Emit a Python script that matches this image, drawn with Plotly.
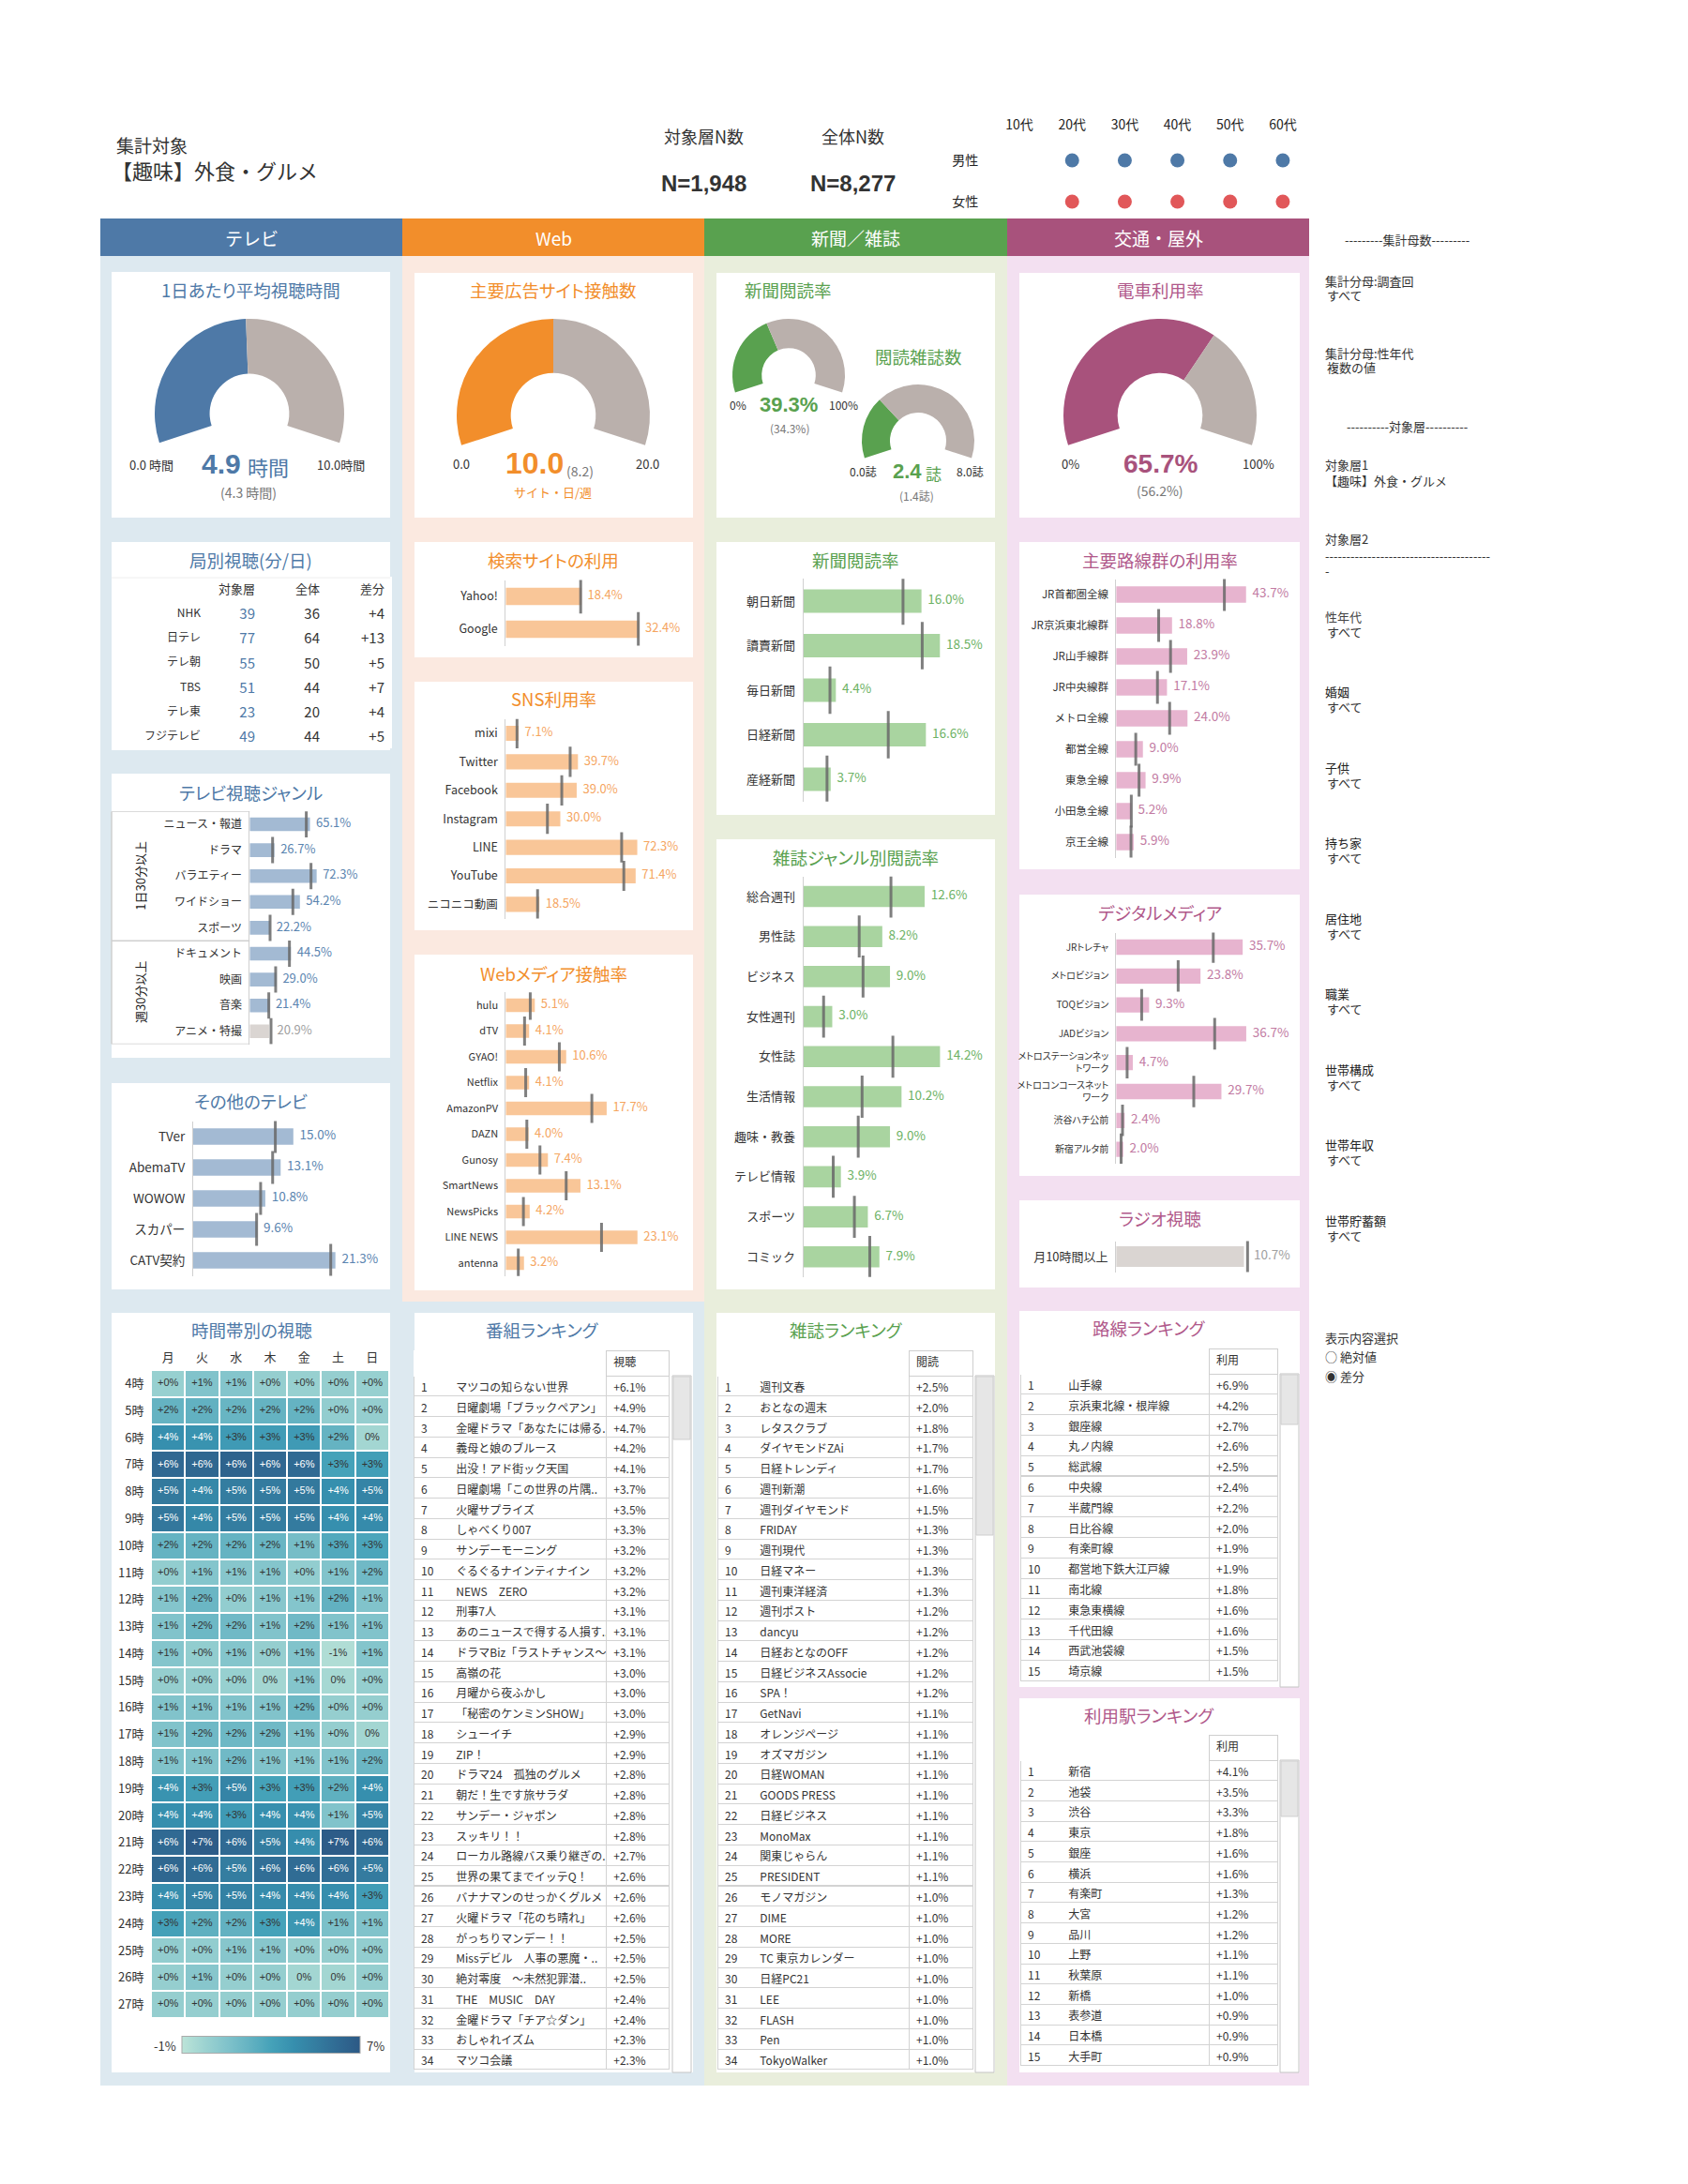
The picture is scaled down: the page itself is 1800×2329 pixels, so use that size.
import plotly.graph_objects as go

# page body has an 8px margin: size the figure to the content box and place by page pixels
OFF = 8
W, H = 1800 - 2 * OFF, 2329 - 2 * OFF
def X(px): return (px - OFF) / W
def Y(py): return 1 - (py - OFF) / H

JP = "Noto Sans CJK JP, Noto Sans, sans-serif"
NUM = "Liberation Sans Narrow, Liberation Sans, Arial, sans-serif"

# ======================= DATA =======================
target_name = "【趣味】外食・グルメ"
n_target_label = "N=1,948"
n_total_label = "N=8,277"
age_groups = ["10代", "20代", "30代", "40代", "50代", "60代"]
genders = ["男性", "女性"]
male_selected = ["20代", "30代", "40代", "50代", "60代"]
female_selected = ["20代", "30代", "40代", "50代", "60代"]

tv_time, tv_time_all, tv_time_max = 4.9, 4.3, 10.0
web_sites, web_sites_all, web_sites_max = 10.0, 8.2, 20.0
np_rate, np_rate_all, np_rate_max = 39.3, 34.3, 100.0
mag_num, mag_num_all, mag_num_max = 2.4, 1.4, 8.0
train_rate, train_rate_all, train_rate_max = 65.7, 56.2, 100.0

station_names = ["NHK", "日テレ", "テレ朝", "TBS", "テレ東", "フジテレビ"]
station_target = [39, 77, 55, 51, 23, 49]
station_total = [36, 64, 50, 44, 20, 44]
station_diff = [4, 13, 5, 7, 4, 5]

genre_labels = ["ニュース・報道", "ドラマ", "バラエティー", "ワイドショー", "スポーツ",
                "ドキュメント", "映画", "音楽", "アニメ・特撮"]
genre_vals = [65.1, 26.7, 72.3, 54.2, 22.2, 44.5, 29.0, 21.4, 20.9]
genre_refs = [61.1, 24.7, 66.2, 46.6, 22.0, 42.9, 28.0, 20.6, 23.0]
genre_groups = ["1日30分以上", "週30分以上"]
genre_group_sizes = [5, 4]

othertv_labels = ["TVer", "AbemaTV", "WOWOW", "スカパー", "CATV契約"]
othertv_vals = [15.0, 13.1, 10.8, 9.6, 21.3]
othertv_refs = [12.3, 11.9, 10.1, 9.5, 20.6]

search_labels = ["Yahoo!", "Google"]
search_vals = [18.4, 32.4]
search_refs = [18.2, 32.2]

sns_labels = ["mixi", "Twitter", "Facebook", "Instagram", "LINE", "YouTube", "ニコニコ動画"]
sns_vals = [7.1, 39.7, 39.0, 30.0, 72.3, 71.4, 18.5]
sns_refs = [6.2, 35.4, 30.8, 22.9, 63.7, 64.9, 17.5]

webm_labels = ["hulu", "dTV", "GYAO!", "Netflix", "AmazonPV", "DAZN", "Gunosy",
               "SmartNews", "NewsPicks", "LINE NEWS", "antenna"]
webm_vals = [5.1, 4.1, 10.6, 4.1, 17.7, 4.0, 7.4, 13.1, 4.2, 23.1, 3.2]
webm_refs = [4.3, 3.3, 9.4, 3.5, 15.1, 3.7, 6.0, 10.6, 3.1, 16.8, 2.2]

np_labels = ["朝日新聞", "讀賣新聞", "毎日新聞", "日経新聞", "産経新聞"]
np_vals = [16.0, 18.5, 4.4, 16.6, 3.7]
np_refs = [13.5, 16.1, 3.6, 11.5, 3.2]

mg_labels = ["総合週刊", "男性誌", "ビジネス", "女性週刊", "女性誌", "生活情報",
             "趣味・教養", "テレビ情報", "スポーツ", "コミック"]
mg_vals = [12.6, 8.2, 9.0, 3.0, 14.2, 10.2, 9.0, 3.9, 6.7, 7.9]
mg_refs = [9.1, 5.8, 6.2, 2.1, 9.3, 6.1, 5.7, 3.1, 5.3, 6.9]

line_labels = ["JR首都圏全線", "JR京浜東北線群", "JR山手線群", "JR中央線群", "メトロ全線",
               "都営全線", "東急全線", "小田急全線", "京王全線"]
line_vals = [43.7, 18.8, 23.9, 17.1, 24.0, 9.0, 9.9, 5.2, 5.9]
line_refs = [36.4, 14.3, 18.3, 13.9, 18.0, 6.6, 7.7, 5.1, 5.0]

dm_labels = ["JRトレチャ", "メトロビジョン", "TOQビジョン", "JADビジョン",
             "メトロステーションネットワーク", "メトロコンコースネットワーク",
             "渋谷ハチ公前", "新宿アルタ前"]
dm_vals = [35.7, 23.8, 9.3, 36.7, 4.7, 29.7, 2.4, 2.0]
dm_refs = [27.4, 17.5, 7.2, 27.8, 3.1, 21.9, 1.8, 1.4]

radio_labels = ["月10時間以上"]
radio_vals = [10.7]
radio_refs = [11.0]

hm_days = ["月", "火", "水", "木", "金", "土", "日"]
hm_hours = ["4時", "5時", "6時", "7時", "8時", "9時", "10時", "11時", "12時", "13時",
            "14時", "15時", "16時", "17時", "18時", "19時", "20時", "21時", "22時",
            "23時", "24時", "25時", "26時", "27時"]
hm_values = [
    [0.2, 1.0, 0.9, 0.3, 0.2, 0.3, 0.2],
    [2.0, 2.1, 1.9, 2.0, 2.0, 0.4, 0.3],
    [4.0, 3.8, 3.4, 3.3, 3.4, 2.0, -0.2],
    [6.1, 6.2, 6.4, 6.1, 6.0, 3.0, 3.2],
    [5.2, 4.4, 5.0, 5.1, 5.2, 4.0, 4.6],
    [5.3, 4.4, 5.0, 5.0, 5.1, 4.0, 4.2],
    [2.0, 2.0, 2.0, 1.9, 1.4, 2.6, 2.8],
    [0.4, 0.9, 0.8, 0.9, 0.4, 1.0, 1.6],
    [0.9, 1.8, 0.4, 0.8, 0.9, 2.1, 1.0],
    [1.0, 1.7, 1.6, 1.0, 1.6, 1.0, 1.0],
    [0.9, 0.4, 0.9, 0.3, 1.0, -0.6, 0.9],
    [0.3, 0.3, 0.2, -0.2, 0.9, -0.3, 0.3],
    [1.0, 1.0, 1.0, 1.0, 1.7, 0.3, 0.3],
    [1.0, 1.6, 1.7, 1.6, 1.0, 0.3, -0.2],
    [1.0, 1.0, 1.6, 1.0, 0.9, 1.0, 1.8],
    [3.8, 3.2, 4.6, 3.0, 3.2, 2.2, 4.0],
    [4.0, 4.0, 3.4, 4.0, 3.9, 1.0, 4.6],
    [6.0, 6.8, 6.0, 5.0, 4.1, 6.8, 6.2],
    [6.2, 5.9, 5.0, 5.8, 5.9, 5.8, 5.1],
    [4.1, 4.7, 4.8, 4.2, 4.2, 4.1, 3.3],
    [3.1, 2.2, 2.1, 3.0, 3.6, 1.2, 1.0],
    [0.4, 0.4, 0.8, 0.8, 0.3, 0.3, 0.4],
    [0.3, 0.8, 0.3, 0.3, -0.2, -0.2, 0.3],
    [0.3, 0.3, 0.3, 0.3, 0.3, 0.3, 0.3],
]

prog_names = ["マツコの知らない世界", "日曜劇場「ブラックペアン」", "金曜ドラマ「あなたには帰る..",
              "義母と娘のブルース", "出没！アド街ック天国", "日曜劇場「この世界の片隅..",
              "火曜サプライズ", "しゃべくり007", "サンデーモーニング", "ぐるぐるナインティナイン",
              "NEWS　ZERO", "刑事7人", "あのニュースで得する人損す..",
              "ドラマBiz「ラストチャンス～..", "高嶺の花", "月曜から夜ふかし",
              "「秘密のケンミンSHOW」", "シューイチ", "ZIP！", "ドラマ24　孤独のグルメ",
              "朝だ！生です旅サラダ", "サンデー・ジャポン", "スッキリ！！",
              "ローカル路線バス乗り継ぎの..", "世界の果てまでイッテQ！", "バナナマンのせっかくグルメ",
              "火曜ドラマ「花のち晴れ」", "がっちりマンデー！！", "Missデビル　人事の悪魔・..",
              "絶対零度　～未然犯罪潜..", "THE　MUSIC　DAY", "金曜ドラマ「チア☆ダン」",
              "おしゃれイズム", "マツコ会議"]
prog_vals = [6.1, 4.9, 4.7, 4.2, 4.1, 3.7, 3.5, 3.3, 3.2, 3.2, 3.2, 3.1, 3.1, 3.1, 3.0, 3.0, 3.0,
             2.9, 2.9, 2.8, 2.8, 2.8, 2.8, 2.7, 2.6, 2.6, 2.6, 2.5, 2.5, 2.5, 2.4, 2.4, 2.3, 2.3]

mag_names = ["週刊文春", "おとなの週末", "レタスクラブ", "ダイヤモンドZAi", "日経トレンディ",
             "週刊新潮", "週刊ダイヤモンド", "FRIDAY", "週刊現代", "日経マネー", "週刊東洋経済",
             "週刊ポスト", "dancyu", "日経おとなのOFF", "日経ビジネスAssocie", "SPA！", "GetNavi",
             "オレンジページ", "オズマガジン", "日経WOMAN", "GOODS PRESS", "日経ビジネス",
             "MonoMax", "関東じゃらん", "PRESIDENT", "モノマガジン", "DIME", "MORE",
             "TC 東京カレンダー", "日経PC21", "LEE", "FLASH", "Pen", "TokyoWalker"]
mag_vals = [2.5, 2.0, 1.8, 1.7, 1.7, 1.6, 1.5, 1.3, 1.3, 1.3, 1.3, 1.2, 1.2, 1.2, 1.2, 1.2, 1.1,
            1.1, 1.1, 1.1, 1.1, 1.1, 1.1, 1.1, 1.1, 1.0, 1.0, 1.0, 1.0, 1.0, 1.0, 1.0, 1.0, 1.0]

route_names = ["山手線", "京浜東北線・根岸線", "銀座線", "丸ノ内線", "総武線", "中央線", "半蔵門線",
               "日比谷線", "有楽町線", "都営地下鉄大江戸線", "南北線", "東急東横線", "千代田線",
               "西武池袋線", "埼京線"]
route_vals = [6.9, 4.2, 2.7, 2.6, 2.5, 2.4, 2.2, 2.0, 1.9, 1.9, 1.8, 1.6, 1.6, 1.5, 1.5]

sta_names = ["新宿", "池袋", "渋谷", "東京", "銀座", "横浜", "有楽町", "大宮", "品川", "上野",
             "秋葉原", "新橋", "表参道", "日本橋", "大手町"]
sta_vals = [4.1, 3.5, 3.3, 1.8, 1.6, 1.6, 1.3, 1.2, 1.2, 1.1, 1.1, 1.0, 0.9, 0.9, 0.9]

side_filters = [("集計分母:調査回", "すべて"), ("集計分母:性年代", "複数の値")]
side_target = [("対象層1", "【趣味】外食・グルメ"), ("対象層2", "-")]
side_attrs = ["性年代", "婚姻", "子供", "持ち家", "居住地", "職業", "世帯構成", "世帯年収", "世帯貯蓄額"]
side_attr_value = "すべて"

# ======================= STYLE =======================
C_TV, C_WEB, C_NEWS, C_TR = "#4e79a7", "#f28e2b", "#59a14f", "#a8527c"
T_TV, T_WEB, T_NEWS, T_TR = "#4e79a7", "#f28e2b", "#59a14f", "#b0588a"
B_TV, B_WEB, B_NEWS, B_TR = "#a3bad3", "#f9c698", "#a9d4a0", "#e7b4cf"
V_TV, V_WEB, V_NEWS, V_TR = "#5a84b0", "#f5a55f", "#6db264", "#c27ba3"
BG_TV, BG_WEB, BG_NEWS, BG_TR = "#dde9f0", "#fbe9e0", "#e9eedc", "#f3e0f1"
GRAY_BAR, GRAY_TXT, GAUGE_GRAY = "#dad5d2", "#a0a0a0", "#bab0ac"
GAP = "\u2002"


def palt(s):
    # proportional kana metrics, closer to the reference typeface
    return f"<span style=\"font-feature-settings:'palt'\">{s}</span>"


fig = go.Figure()
layout = {}
shapes = []
annotations = []
axn = [0]


def axes(xpx, ypx, xkw, ykw):
    axn[0] += 1
    s = "" if axn[0] == 1 else str(axn[0])
    layout["xaxis" + s] = dict(domain=[X(xpx[0]), X(xpx[1])], anchor="y" + s, **xkw)
    layout["yaxis" + s] = dict(domain=[Y(ypx[1]), Y(ypx[0])], anchor="x" + s, **ykw)
    return "x" + s, "y" + s


def rect(x0, y0, x1, y1, fill, line=None, lw=1, layer="below"):
    shapes.append(dict(type="rect", xref="paper", yref="paper", x0=X(x0), x1=X(x1), y0=Y(y1), y1=Y(y0),
                       fillcolor=fill, line=dict(width=lw if line else 0, color=line or fill), layer=layer))


def hline(x0, x1, y, color="#d6d6d6", lw=1):
    shapes.append(dict(type="line", xref="paper", yref="paper", x0=X(x0), x1=X(x1), y0=Y(y), y1=Y(y),
                       line=dict(color=color, width=lw), layer="above"))


def txt(x, y, s, size=12, color="#333", xanchor="center", yanchor="middle", bold=False, family=JP, **kw):
    annotations.append(dict(x=X(x), y=Y(y), xref="paper", yref="paper",
                            text=f"<b>{s}</b>" if bold else s, showarrow=False, xanchor=xanchor,
                            yanchor=yanchor, font=dict(size=size, color=color, family=family), **kw))


def wrap(s, n):
    return s if len(s) <= n + 1 else s[:n] + "<br>" + s[n:]


def hbar(labels, values, refs, x0, ppu, x1, y_first, step, bar_c, txt_c, tick_h,
         lab_size=12, val_size=13, bar_w=0.53, wrap_at=None, prop=False):
    n = len(labels)
    ticktext = [wrap(l, wrap_at) if wrap_at else l for l in labels]
    if prop:
        ticktext = ["<br>".join(palt(p) for p in t.split("<br>")) for t in ticktext]
    xr, yr = axes((x0, x1), (y_first - step / 2, y_first + (n - 0.5) * step),
                  dict(range=[0, (x1 - x0) / ppu], visible=False, fixedrange=True),
                  dict(type="category", categoryorder="array", categoryarray=labels,
                       range=[n - 0.5, -0.5], tickvals=labels, ticktext=ticktext,
                       showline=True, linecolor="#d0d0d0", linewidth=1, ticks="outside",
                       ticklen=5, tickcolor="rgba(0,0,0,0)", showgrid=False, zeroline=False,
                       tickfont=dict(size=lab_size, color="#333", family=JP)))
    pos = [v >= r for v, r in zip(values, refs)]
    fig.add_trace(go.Bar(x=values, y=labels, orientation="h", width=bar_w,
                         marker=dict(color=[bar_c if p else GRAY_BAR for p in pos], line=dict(width=0)),
                         xaxis=xr, yaxis=yr, hoverinfo="skip"))
    fig.add_trace(go.Scatter(x=refs, y=labels, mode="markers",
                             marker=dict(symbol="line-ns", size=tick_h,
                                         line=dict(width=3, color="rgba(105,105,105,0.85)")),
                             xaxis=xr, yaxis=yr, hoverinfo="skip"))
    fig.add_trace(go.Scatter(x=[max(v, r) for v, r in zip(values, refs)], y=labels, mode="text",
                             text=[f"{GAP}{v:.1f}%" for v in values], textposition="middle right",
                             textfont=dict(size=val_size, family=JP,
                                           color=[txt_c if p else GRAY_TXT for p in pos]),
                             xaxis=xr, yaxis=yr, cliponaxis=False, hoverinfo="skip"))
    return xr, yr


def gauge(cx, cy, r, value, vmax, color, hole):
    f = value / vmax
    fig.add_trace(go.Pie(values=[f * 0.6, (1 - f) * 0.6, 0.4],
                         marker=dict(colors=[color, GAUGE_GRAY, "rgba(0,0,0,0)"], line=dict(width=0)),
                         hole=hole, sort=False, direction="clockwise", rotation=-108,
                         textinfo="none", hoverinfo="skip", showlegend=False,
                         domain=dict(x=[X(cx - r), X(cx + r)], y=[Y(cy + r), Y(cy - r)])))


def ranking(names, vals, head, x_left, name_w, val_w, y_top, row_h, n_en, head_h=27):
    n = len(names)
    # rank and title share one column (no divider between them in the reference)
    first = [f"{i}" + "\u2007" * (2 - len(str(i))) + "\u2002" * n_en + nm
             for i, nm in zip(range(1, n + 1), names)]
    fig.add_trace(go.Table(
        domain=dict(x=[X(x_left), X(x_left + name_w + val_w)],
                    y=[Y(y_top + head_h + row_h * n + 2), Y(y_top)]),
        columnwidth=[name_w, val_w],
        header=dict(values=["", head], height=head_h, align="left", fill_color="white",
                    line=dict(color=["white", "#cfcfcf"], width=1),
                    font=dict(size=12, color="#333", family=JP)),
        cells=dict(values=[first, [f"{v:+.1f}%" for v in vals]],
                   height=row_h, align="left", fill_color="white",
                   line=dict(color="#d3d3d3", width=1),
                   font=dict(size=12, color="#333", family=JP))))


def scrollbar(x0, x1, y0, y1, thumb_end):
    rect(x0, y0, x1, y1, "white", line="#c4c4c4", layer="above")
    rect(x0 + 1, y0 + 1, x1 - 1, thumb_end, "#e6e6e6", line="#cfcfcf", layer="above")


# ======================= HEADER =======================
txt(122, 154, "集計対象", size=19, xanchor="left")
txt(117, 181, target_name, size=22, xanchor="left")
txt(750, 145, "対象層N数", size=18)
txt(910, 145, "全体N数", size=18)
txt(750, 195, n_target_label, size=24, bold=True, family=NUM)
txt(909, 195, n_total_label, size=24, bold=True, family=NUM)

xr, yr = axes((1059, 1396), (149, 237),
              dict(type="category", categoryorder="array", categoryarray=age_groups, range=[-0.5, 5.5],
                   side="top", showgrid=False, zeroline=False, showline=False, ticks="outside",
                   ticklen=4, tickcolor="rgba(0,0,0,0)", tickfont=dict(size=14, color="#222", family=JP)),
              dict(type="category", categoryorder="array", categoryarray=genders, range=[1.5, -0.5],
                   showgrid=False, zeroline=False, showline=False, ticks="outside", ticklen=12,
                   tickcolor="rgba(0,0,0,0)", tickfont=dict(size=14, color="#222", family=JP)))
fig.add_trace(go.Scatter(x=male_selected, y=["男性"] * len(male_selected), mode="markers",
                         marker=dict(size=15, color=C_TV), xaxis=xr, yaxis=yr, hoverinfo="skip"))
fig.add_trace(go.Scatter(x=female_selected, y=["女性"] * len(female_selected), mode="markers",
                         marker=dict(size=15, color="#e15759"), xaxis=xr, yaxis=yr, hoverinfo="skip"))

cols = [((107, 429), C_TV, "テレビ"), ((429, 751), C_WEB, "Web"),
        ((751, 1074), C_NEWS, "新聞／雑誌"), ((1074, 1396), C_TR, "交通・屋外")]
for (a, b), c, t in cols:
    rect(a, 233, b, 273, c)
    txt((a + b) / 2, 254, t, size=19, color="white")
rect(107, 273, 429, 2224, BG_TV)
rect(429, 273, 751, 1388, BG_WEB)
rect(429, 1388, 751, 2224, BG_TV)
rect(751, 273, 1074, 2224, BG_NEWS)
rect(1074, 273, 1396, 2224, BG_TR)

panels = [(119, 290, 416, 552), (119, 578, 416, 800), (119, 825, 416, 1128), (119, 1155, 416, 1375),
          (119, 1400, 416, 2210),
          (442, 291, 739, 552), (442, 578, 739, 701), (442, 727, 739, 992), (442, 1018, 739, 1376),
          (442, 1400, 739, 2210),
          (764, 291, 1061, 552), (764, 578, 1061, 869), (764, 895, 1061, 1375), (764, 1400, 1061, 2210),
          (1087, 291, 1386, 552), (1087, 578, 1386, 927), (1087, 954, 1386, 1254),
          (1087, 1280, 1386, 1373), (1087, 1398, 1386, 1799), (1087, 1811, 1386, 2210)]
for p in panels:
    rect(*p, "white")

for x, y, t, c in [(267, 309, "1日あたり平均視聴時間", T_TV), (267, 597, "局別視聴(分/日)", T_TV),
                   (267, 845, "テレビ視聴ジャンル", T_TV), (267, 1174, "その他のテレビ", T_TV),
                   (268, 1418, "時間帯別の視聴", T_TV),
                   (590, 309, "主要広告サイト接触数", T_WEB), (590, 597, "検索サイトの利用", T_WEB),
                   (590, 745, "SNS利用率", T_WEB), (590, 1038, "Webメディア接触率", T_WEB),
                   (578, 1418, "番組ランキング", T_TV),
                   (840, 309, "新聞閲読率", T_NEWS), (979, 380, "閲読雑誌数", T_NEWS),
                   (912, 597, "新聞閲読率", T_NEWS), (912, 914, "雑誌ジャンル別閲読率", T_NEWS),
                   (902, 1418, "雑誌ランキング", T_NEWS),
                   (1237, 309, "電車利用率", T_TR), (1237, 597, "主要路線群の利用率", T_TR),
                   (1237, 973, "デジタルメディア", T_TR), (1237, 1299, "ラジオ視聴", T_TR),
                   (1225, 1416, "路線ランキング", T_TR), (1225, 1829, "利用駅ランキング", T_TR)]:
    txt(x, y, palt(t), size=18.5, color=c)

# ======================= GAUGES =======================
gauge(266, 441, 101, tv_time, tv_time_max, C_TV, 0.42)
txt(136, 495, f"{0:.1f} 時間", size=13, xanchor="left")
txt(259, 494, f"{tv_time:.1f}", size=30, color=C_TV, bold=True, family=NUM, xanchor="right")
txt(262, 497, "時間", size=22, color=C_TV, xanchor="left")
txt(336, 495, f"{tv_time_max:.1f}時間", size=13, xanchor="left")
txt(265, 525, f"({tv_time_all:.1f} 時間)", size=14, color="#777")

gauge(590, 443, 103, web_sites, web_sites_max, C_WEB, 0.44)
txt(481, 494, f"{0:.1f}", size=13, xanchor="left")
txt(570, 494, f"{web_sites:.1f}", size=32, color=C_WEB, bold=True, family=NUM)
txt(602, 502, f"({web_sites_all:.1f})", size=14, color="#777", xanchor="left")
txt(676, 494, f"{web_sites_max:.1f}", size=13, xanchor="left")
txt(589, 524, "サイト・日/週", size=13, color=C_WEB)

gauge(841, 400, 60, np_rate, np_rate_max, C_NEWS, 0.48)
txt(776, 431, "0%", size=12, xanchor="left")
txt(841, 431, f"{np_rate:.1f}%", size=22, color=C_NEWS, bold=True, family=NUM)
txt(882, 431, f"{np_rate_max:.0f}%", size=12, xanchor="left")
txt(842, 457, f"({np_rate_all:.1f}%)", size=12, color="#777")

gauge(979, 470, 60, mag_num, mag_num_max, C_NEWS, 0.5)
txt(904, 502, f"{0:.1f}誌", size=12, xanchor="left")
txt(985, 502, f"{mag_num:.1f}", size=22, color=C_NEWS, bold=True, family=NUM, xanchor="right")
txt(985, 504, "誌", size=17, color=C_NEWS, xanchor="left")
txt(1018, 502, f"{mag_num_max:.1f}誌", size=12, xanchor="left")
txt(978, 528, f"({mag_num_all:.1f}誌)", size=12, color="#777")

gauge(1237, 443, 103, train_rate, train_rate_max, C_TR, 0.44)
txt(1130, 494, "0%", size=13, xanchor="left")
txt(1237, 494, f"{train_rate:.1f}%", size=28, color=C_TR, bold=True, family=NUM)
txt(1323, 494, f"{train_rate_max:.0f}%", size=13, xanchor="left")
txt(1237, 523, f"({train_rate_all:.1f}%)", size=14, color="#777")

# ======================= TV =======================
hline(119, 416, 616, color="#eeeeee")
fig.add_trace(go.Table(
    domain=dict(x=[X(150), X(418)], y=[Y(798), Y(615)]),
    columnwidth=[72, 58, 69, 69],
    header=dict(values=["", "対象層", "全体", "差分"], height=26, align="right", fill_color="white",
                line=dict(color="white", width=0), font=dict(size=13, color="#333", family=JP)),
    cells=dict(values=[station_names, station_target, station_total, [f"{d:+d}" for d in station_diff]],
               height=26.2, align="right", fill_color="white", line=dict(color="white", width=0),
               font=dict(size=[12, 15, 15, 15], color=["#333", C_TV, "#333", "#333"], family=JP))))

gx, gy = hbar(genre_labels, genre_vals, genre_refs, 266.3, 0.987, 410, 879, 27.6, B_TV, V_TV, 20,
              lab_size=12, val_size=13)
bounds = [-0.5]
for s in genre_group_sizes:
    bounds.append(bounds[-1] + s)
for b in bounds:
    shapes.append(dict(type="line", xref="paper", yref=gy, x0=X(119), x1=X(266.3), y0=b, y1=b,
                       line=dict(color="#cfcfcf", width=1.5), layer="above"))
shapes.append(dict(type="line", xref="paper", yref=gy, x0=X(119), x1=X(119), y0=bounds[0], y1=bounds[-1],
                   line=dict(color="#cfcfcf", width=1.5), layer="above"))
for g, a, b in zip(genre_groups, bounds[:-1], bounds[1:]):
    annotations.append(dict(x=X(138), y=(a + b) / 2, xref="paper", yref=gy, text=g, showarrow=False,
                            textangle=-90, font=dict(size=13, color="#222", family=JP)))

hbar(othertv_labels, othertv_vals, othertv_refs, 206, 7.12, 410, 1212, 33, B_TV, V_TV, 25,
     lab_size=13.5, val_size=13.5)

def pct_label(v):
    r = int(round(v))
    return "0%" if (r == 0 and v < 0) else f"{r:+d}%"

hx, hy = axes((161, 415), (1461, 2152),
              dict(type="category", categoryorder="array", categoryarray=hm_days, side="top",
                   showgrid=False, zeroline=False, showline=False, ticks="outside", ticklen=3,
                   tickcolor="rgba(0,0,0,0)", tickfont=dict(size=13, color="#333", family=JP)),
              dict(type="category", categoryorder="array", categoryarray=hm_hours,
                   range=[len(hm_hours) - 0.5, -0.5], showgrid=False, zeroline=False, showline=False,
                   ticks="outside", ticklen=4, tickcolor="rgba(0,0,0,0)",
                   tickfont=dict(size=13, color="#333", family=JP)))
blue_teal = [[0, "#bce4d8"], [0.125, "#9dd3d1"], [0.25, "#81c3cb"], [0.375, "#65b3c2"],
             [0.5, "#45a2b9"], [0.625, "#368fae"], [0.75, "#347da0"], [0.875, "#306a93"],
             [1, "#2c5985"]]
fig.add_trace(go.Heatmap(x=hm_days, y=hm_hours, z=hm_values,
                         colorscale=blue_teal, zmin=-1, zmax=7, xgap=2, ygap=2,
                         xaxis=hx, yaxis=hy, hoverinfo="skip",
                         colorbar=dict(orientation="h", x=X(289), xanchor="center", y=Y(2181),
                                       yanchor="middle", len=190 / W, lenmode="fraction", thickness=18,
                                       xpad=0, ypad=0, showticklabels=False, ticks="",
                                       outlinewidth=1, outlinecolor="#aaaaaa")))
cell_x, cell_y, cell_t, cell_c = [], [], [], []
for hr, row in zip(hm_hours, hm_values):
    for d, v in zip(hm_days, row):
        cell_x.append(d)
        cell_y.append(hr)
        cell_t.append(pct_label(v))
        cell_c.append("white" if v >= 3.5 else "#333333")
fig.add_trace(go.Scatter(x=cell_x, y=cell_y, text=cell_t, mode="text", textposition="middle center",
                         textfont=dict(size=11, family=NUM, color=cell_c), xaxis=hx, yaxis=hy,
                         hoverinfo="skip"))
txt(190, 2181, "-1%", size=13, xanchor="right")
txt(389, 2181, "7%", size=13, xanchor="left")

# ======================= WEB =======================
hbar(search_labels, search_vals, search_refs, 539.3, 4.39, 733, 636, 35, B_WEB, V_WEB, 26, lab_size=12.5)
hbar(sns_labels, sns_vals, sns_refs, 539.3, 1.94, 733, 782, 30.4, B_WEB, V_WEB, 23, lab_size=12.5)
hbar(webm_labels, webm_vals, webm_refs, 539.3, 6.08, 733, 1072, 27.5, B_WEB, V_WEB, 22, lab_size=11)
ranking(prog_names, prog_vals, "視聴", 441, 206, 67, 1440, 21.76, n_en=4)
scrollbar(717, 737, 1467, 2210, 1535)

# ======================= NEWS =======================
hbar(np_labels, np_vals, np_refs, 856.7, 7.87, 1055, 641, 47.5, B_NEWS, V_NEWS, 36,
     lab_size=13, val_size=13.5)
hbar(mg_labels, mg_vals, mg_refs, 856.7, 10.26, 1055, 956, 42.7, B_NEWS, V_NEWS, 32,
     lab_size=13, val_size=13.5)
ranking(mag_names, mag_vals, "閲読", 765, 204, 68, 1440, 21.76, n_en=4)
scrollbar(1040, 1060, 1467, 2210, 1637)

# ======================= TRAIN =======================
hbar(line_labels, line_vals, line_refs, 1190.2, 3.17, 1380, 634, 33, B_TR, V_TR, 25,
     lab_size=11.5, val_size=13.5)
hbar(dm_labels, dm_vals, dm_refs, 1190.2, 3.78, 1380, 1010, 30.8, B_TR, V_TR, 24,
     lab_size=10, val_size=13.5, wrap_at=11, prop=True)
hbar(radio_labels, radio_vals, radio_refs, 1190.2, 12.74, 1380, 1340, 33, B_TR, V_TR, 30,
     lab_size=13, val_size=13.5, bar_w=0.67)
ranking(route_names, route_vals, "利用", 1088, 201, 73, 1438, 21.8, n_en=5)
scrollbar(1365, 1385, 1465, 1799, 1519)
ranking(sta_names, sta_vals, "利用", 1088, 201, 73, 1850, 21.7, n_en=5)
scrollbar(1365, 1385, 1877, 2210, 1937)

# ======================= SIDEBAR =======================
SX = 1411
SF = 13
txt(1500, 256, "---------集計母数---------", size=SF, color="#333")
yy = 299
for a, b in side_filters:
    txt(SX, yy, a, size=SF, xanchor="left")
    txt(SX + 2, yy + 16, b, size=SF, xanchor="left")
    yy += 77
txt(1500, 455, "----------対象層----------", size=SF, color="#333")
txt(SX, 495, side_target[0][0], size=SF, xanchor="left")
txt(SX, 512, side_target[0][1], size=SF, xanchor="left")
txt(SX, 574, side_target[1][0], size=SF, xanchor="left")
txt(SX, 592, "-" * 39, size=SF, xanchor="left")
txt(SX, 609, side_target[1][1], size=SF, xanchor="left")
yy = 657
for a in side_attrs:
    txt(SX, yy, a, size=SF, xanchor="left", color="#444" if a == "性年代" else "#222")
    txt(SX + 2, yy + 16, side_attr_value, size=SF, xanchor="left")
    yy += 80.5
txt(SX, 1426, "表示内容選択", size=SF, xanchor="left")
txt(SX, 1446, "○ 絶対値", size=SF, xanchor="left")
txt(SX, 1467, "◉ 差分", size=SF, xanchor="left")

layout.update(dict(width=W, height=H, margin=dict(l=0, r=0, t=0, b=0, pad=0),
                   paper_bgcolor="white", plot_bgcolor="rgba(0,0,0,0)", showlegend=False,
                   hovermode=False, font=dict(family=JP, color="#333"),
                   shapes=shapes, annotations=annotations))
fig.update_layout(**layout)
fig.write_html("out.html")
